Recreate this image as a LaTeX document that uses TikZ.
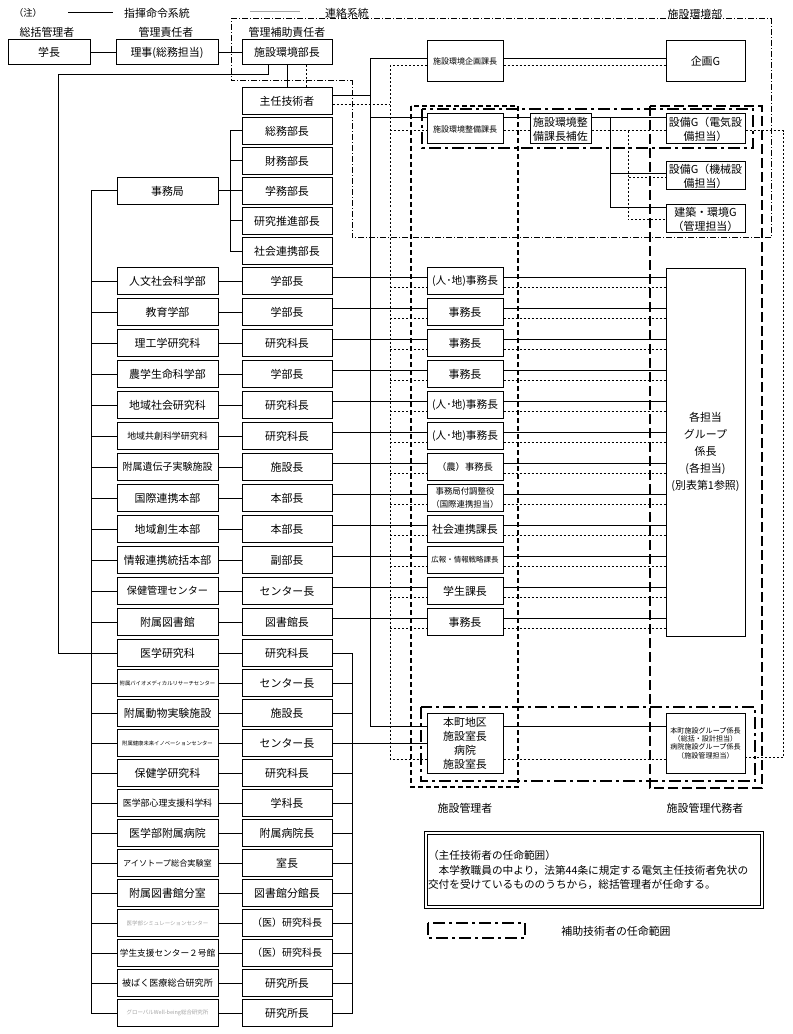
\documentclass[tikz,border=0pt]{standalone}
\usepackage{fontspec}
\setmainfont{Noto Sans CJK JP}
\definecolor{faint}{RGB}{165,165,165}
\tikzset{every picture/.style={line width=0.75pt}}
\tikzset{
  box/.style={draw, fill=white, inner sep=0pt, align=center, minimum height=20pt},
  colL/.style={box, minimum width=75.75pt},
  colM/.style={box, minimum width=67.5pt},
  colC/.style={box, minimum width=57pt},
  colR/.style={box, minimum width=59.25pt},
  fs/.style={font=\fontsize{#1}{#1}\selectfont},
  contact/.style={dash pattern=on 1.5pt off 1.5pt},
  kanri/.style={line width=1.5pt, dash pattern=on 3.75pt off 2.25pt},
  daimu/.style={line width=1.5pt, dash pattern=on 7.5pt off 3pt},
  hojo/.style={line width=1.5pt, dash pattern=on 9pt off 3pt on 2.25pt off 3pt},
  bumon/.style={dash pattern=on 4.5pt off 1.5pt on 0.75pt off 1.5pt},
}

\begin{document}
\begin{tikzpicture}[x=0.75pt,y=0.75pt,yscale=-1,xscale=1,font=\fontsize{8.2}{10.5}\selectfont]
\useasboundingbox (0,0) rectangle (792,1034);

	%Shape: Polygon [施設環境部]
	\draw [bumon] (231,19) -- (771,19) -- (771,238) -- (352,238) -- (352,81) -- (231,81) -- cycle ;
	%Shape: Rectangle [施設管理者]
	\draw [kanri] (411,106) rectangle (518,787) ;
	%Shape: Rectangle [施設管理代務者]
	\draw [daimu] (650,106) rectangle (762,788) ;
	%Shape: Rectangle [補助技術者]
	\draw [hojo] (422,109) rectangle (753,148) ;
	\draw [hojo] (421,707) rectangle (755,781) ;

	% Text Node
	\node [fs=7] (chu) at (28,13) {（注）};
	\node (shiki) at (157,13) {指揮命令系統};
	\node (renraku) at (347,13) {連絡系統};
	\node (bumei) at (695,14) {施設環境部};
	\node (sokatsu) at (47,32) {総括管理者};
	\node (sekinin) at (166,32) {管理責任者};
	\node (hojosekinin) at (287,32) {管理補助責任者};
	\coordinate (lgA1) at (68,13);
	\coordinate (lgA2) at (113,13);
	\coordinate (lgB1) at (250,12);
	\coordinate (lgB2) at (300,12);
	\draw (lgA1) -- (lgA2) ;
	\draw [faint] (lgB1) -- (lgB2) ;

	% Top row
	\node [box, minimum width=61.5pt, minimum height=18.75pt] (gakucho) at (49,52.5) {学長};
	\node [box, minimum width=76.5pt, minimum height=18.75pt] (riji) at (167,52.5) {理事(総務担当)};
	\node [box, minimum width=67.5pt, minimum height=18.75pt] (boss) at (287,52.5) {施設環境部長};
	\node [colM] (chief) at (287,101) {主任技術者};

	% 事務局
	\node [colL] (jimu) at (167.5,191) {事務局};
	\node [colM] (bu1) at (287,131) {総務部長};
	\node [colM] (bu2) at (287,161) {財務部長};
	\node [colM] (bu3) at (287,191) {学務部長};
	\node [colM] (bu4) at (287,221) {研究推進部長};
	\node [colM] (bu5) at (287,251) {社会連携部長};

	% Rows
	\node [colL] (l0) at (167.5,281) {人文社会科学部};
	\node [colM] (m0) at (287,281) {学部長};
	\node [colC, fs=8] (c0) at (465,281) {(人･地)事務長};
	\node [colL] (l1) at (167.5,312) {教育学部};
	\node [colM] (m1) at (287,312) {学部長};
	\node [colC] (c1) at (465,312) {事務長};
	\node [colL] (l2) at (167.5,343) {理工学研究科};
	\node [colM] (m2) at (287,343) {研究科長};
	\node [colC] (c2) at (465,343) {事務長};
	\node [colL] (l3) at (167.5,374) {農学生命科学部};
	\node [colM] (m3) at (287,374) {学部長};
	\node [colC] (c3) at (465,374) {事務長};
	\node [colL] (l4) at (167.5,405) {地域社会研究科};
	\node [colM] (m4) at (287,405) {研究科長};
	\node [colC, fs=8] (c4) at (465,405) {(人･地)事務長};
	\node [colL, fs=6.7] (l5) at (167.5,436) {地域共創科学研究科};
	\node [colM] (m5) at (287,436) {研究科長};
	\node [colC, fs=8] (c5) at (465,436) {(人･地)事務長};
	\node [colL, fs=7.5] (l6) at (167.5,467) {附属遺伝子実験施設};
	\node [colM] (m6) at (287,467) {施設長};
	\node [colC, fs=7] (c6) at (465,467) {（農）事務長};
	\node [colL] (l7) at (167.5,498) {国際連携本部};
	\node [colM] (m7) at (287,498) {本部長};
	\node [colC, font=\fontsize{6.3}{9.5}\selectfont] (c7) at (465,498) {事務局付調整役\\（国際連携担当）};
	\node [colL] (l8) at (167.5,529) {地域創生本部};
	\node [colM] (m8) at (287,529) {本部長};
	\node [colC] (c8) at (465,529) {社会連携課長};
	\node [colL] (l9) at (167.5,560) {情報連携統括本部};
	\node [colM] (m9) at (287,560) {副部長};
	\node [colC, fs=5.6] (c9) at (465,560) {広報・情報戦略課長};
	\node [colL, fs=7.6] (l10) at (167.5,591) {保健管理センター};
	\node [colM] (m10) at (287,591) {センター長};
	\node [colC] (c10) at (465,591) {学生課長};
	\node [colL] (l11) at (167.5,622) {附属図書館};
	\node [colM] (m11) at (287,622) {図書館長};
	\node [colC] (c11) at (465,622) {事務長};
	\node [colL] (l12) at (167.5,653) {医学研究科};
	\node [colM] (m12) at (287,653) {研究科長};
	\node [colL, fs=4] (l13) at (167.5,683) {附属バイオメディカルリサーチセンター};
	\node [colM] (m13) at (287,683) {センター長};
	\node [colL] (l14) at (167.5,713) {附属動物実験施設};
	\node [colM] (m14) at (287,713) {施設長};
	\node [colL, fs=4] (l15) at (167.5,743) {附属健康未来イノベーションセンター};
	\node [colM] (m15) at (287,743) {センター長};
	\node [colL] (l16) at (167.5,773) {保健学研究科};
	\node [colM] (m16) at (287,773) {研究科長};
	\node [colL, fs=6.7] (l17) at (167.5,803) {医学部心理支援科学科};
	\node [colM] (m17) at (287,803) {学科長};
	\node [colL] (l18) at (167.5,833) {医学部附属病院};
	\node [colM] (m18) at (287,833) {附属病院長};
	\node [colL, fs=6.1] (l19) at (167.5,863) {アイソトープ総合実験室};
	\node [colM] (m19) at (287,863) {室長};
	\node [colL] (l20) at (167.5,893) {附属図書館分室};
	\node [colM] (m20) at (287,893) {図書館分館長};
	\node [colL, fs=4.1, text=faint] (l21) at (167.5,923) {医学部シミュレーションセンター};
	\node [colM, fs=7.5] (m21) at (287,923) {（医）研究科長};
	\node [colL, fs=6.5] (l22) at (167.5,953) {学生支援センター２号館};
	\node [colM, fs=7.5] (m22) at (287,953) {（医）研究科長};
	\node [colL, fs=6.8] (l23) at (167.5,983) {被ばく医療総合研究所};
	\node [colM] (m23) at (287,983) {研究所長};
	\node [colL, fs=4.1, text=faint] (l24) at (167.5,1013) {グローバルWell-being総合研究所};
	\node [colM] (m24) at (287,1013) {研究所長};

	% 施設環境部
	\node [colC, minimum height=30.75pt, fs=6] (kikaku) at (465,61) {施設環境企画課長};
	\node [colR, minimum height=30.75pt] (kikakuG) at (705.5,61) {企画G};
	\node [colC, minimum height=22.5pt, fs=6] (seibi) at (465,129) {施設環境整備課長};
	\node [box, minimum width=45.75pt, minimum height=22.5pt] (hosa) at (560.5,129) {施設環境整\\備課長補佐};
	\node [colR, minimum height=22.5pt] (denki) at (705.5,129) {設備G（電気設\\備担当）};
	\node [colR, minimum height=21pt] (kikai) at (705.5,176) {設備G（機械設\\備担当）};
	\node [colR, minimum height=21pt] (kenchiku) at (705.5,219) {建築・環境G\\（管理担当）};
	\node [colR, minimum height=276pt, font=\fontsize{8.2}{12.9}\selectfont] (tanto) at (705.5,452) {各担当\\グループ\\係長\\(各担当)\\(別表第1参照)};
	\node [colC, minimum height=45pt] (honcho) at (465,743) {本町地区\\施設室長\\病院\\施設室長};
	\node [colR, minimum height=45pt, font=\fontsize{5.3}{6.2}\selectfont] (honchoG) at (705.5,743) {本町施設グループ係長\\（総括・設計担当）\\病院施設グループ係長\\（施設管理担当）};
	\node (kanrisha) at (465,808) {施設管理者};
	\node (daimusha) at (705,808) {施設管理代務者};

	% Note
	\node [draw, double, double distance=1.5pt, minimum width=252pt, minimum height=55.5pt, text width=249pt, inner sep=1.5pt, align=left, font=\fontsize{8}{10.9}\selectfont] (note) at (594,870) {（主任技術者の任命範囲）\\　本学教職員の中より，法第44条に規定する電気主任技術者免状の\\交付を受けているもののうちから，総括管理者が任命する。};
	\draw [hojo] (428,923) rectangle (525,938) ;
	\node (hojolbl) at (616,931) {補助技術者の任命範囲};

	% Trunks
	\coordinate (leftT) at (58,75);
	\coordinate (sp) at (91,191);
	\coordinate (jT) at (230,131);
	\coordinate (mT) at (352,653);
	\coordinate (sT) at (370,59);
	\coordinate (dT) at (390,66);
	\coordinate (bT) at (610,118);
	\coordinate (bdT) at (628,131);
	\coordinate (rT) at (783,131);

	%Straight Lines
	\draw (gakucho.east) -- (riji.west) ;
	\draw (riji.east) -- (boss.west) ;
	\draw (boss.south) -- (chief.north) ;
	\draw [contact] ([xshift=14.25pt]boss.south) -- ([xshift=14.25pt]chief.north) ;
	\draw ([xshift=-14.25pt]boss.south) |- (leftT) |- (l12.west) ;
	\draw ([yshift=-1.5pt]kikaku.west) -| (sT) |- ([yshift=-12.75pt]honcho.west) ;
	\draw [contact] ([yshift=3.75pt]kikaku.west) -| (dT) |- ([yshift=12pt]honcho.west) ;
	\draw ([yshift=-1.5pt]kikaku.east) -- ([yshift=-1.5pt]kikakuG.west) ;
	\draw [contact] ([yshift=3.75pt]kikaku.east) -- ([yshift=3.75pt]kikakuG.west) ;
	\draw ([yshift=-3.75pt]chief.east) -- ([yshift=-3.75pt]chief.east -| sT) ;
	\draw [contact] ([yshift=3pt]chief.east) -- ([yshift=3pt]chief.east -| dT) ;
	\draw ([yshift=-8.25pt]seibi.west -| sT) -- ([yshift=-8.25pt]seibi.west) ;
	\draw [contact] ([yshift=1.5pt]seibi.west -| dT) -- ([yshift=1.5pt]seibi.west) ;
	\draw ([yshift=-8.25pt]seibi.east) -- ([yshift=-8.25pt]hosa.west) ;
	\draw [contact] ([yshift=1.5pt]seibi.east) -- ([yshift=1.5pt]hosa.west) ;
	\draw ([yshift=-8.25pt]hosa.east) -- ([yshift=-8.25pt]denki.west) ;
	\draw [contact] ([yshift=1.5pt]hosa.east) -- ([yshift=1.5pt]denki.west) ;
	\draw (bT) |- ([yshift=-1.5pt]kikai.west) ;
	\draw (bT) |- ([yshift=-8.25pt]kenchiku.west) ;
	\draw [contact] (bdT) |- ([yshift=1.5pt]kikai.west) ;
	\draw [contact] (bdT) |- ([yshift=0.75pt]kenchiku.west) ;
	\draw [contact] ([yshift=1.5pt]denki.east) -| (rT) |- ([yshift=10.5pt]honchoG.east) ;
	\draw ([yshift=-12.75pt]honcho.east) -- ([yshift=-12.75pt]honchoG.west) ;
	\draw [contact] ([yshift=12pt]honcho.east) -- ([yshift=12pt]honchoG.west) ;

	% 事務局
	\draw (bu1.west) -- (jT) |- (bu5.west) ;
	\draw (jT |- bu2.west) -- (bu2.west) ;
	\draw (jT |- bu4.west) -- (bu4.west) ;
	\draw (jimu.east) -- (bu3.west) ;

	% Left spine
	\draw (jimu.west) -- (sp) |- (l24.west) ;
	\draw (sp |- l0.west) -- (l0.west) ;
	\draw (sp |- l1.west) -- (l1.west) ;
	\draw (sp |- l2.west) -- (l2.west) ;
	\draw (sp |- l3.west) -- (l3.west) ;
	\draw (sp |- l4.west) -- (l4.west) ;
	\draw (sp |- l5.west) -- (l5.west) ;
	\draw (sp |- l6.west) -- (l6.west) ;
	\draw (sp |- l7.west) -- (l7.west) ;
	\draw (sp |- l8.west) -- (l8.west) ;
	\draw (sp |- l9.west) -- (l9.west) ;
	\draw (sp |- l10.west) -- (l10.west) ;
	\draw (sp |- l11.west) -- (l11.west) ;
	\draw (sp |- l13.west) -- (l13.west) ;
	\draw (sp |- l14.west) -- (l14.west) ;
	\draw (sp |- l15.west) -- (l15.west) ;
	\draw (sp |- l16.west) -- (l16.west) ;
	\draw (sp |- l17.west) -- (l17.west) ;
	\draw (sp |- l18.west) -- (l18.west) ;
	\draw (sp |- l19.west) -- (l19.west) ;
	\draw (sp |- l20.west) -- (l20.west) ;
	\draw (sp |- l21.west) -- (l21.west) ;
	\draw (sp |- l22.west) -- (l22.west) ;
	\draw (sp |- l23.west) -- (l23.west) ;

	% Rows 0-11
	\draw (l0.east) -- (m0.west) ;
	\draw ([yshift=-3pt]m0.east) -- ([yshift=-3pt]c0.west) ;
	\draw ([yshift=-3pt]c0.east) -- ([yshift=-3pt]c0.east -| tanto.west) ;
	\draw [contact] ([yshift=4.5pt]c0.west -| dT) -- ([yshift=4.5pt]c0.west) ;
	\draw [contact] ([yshift=4.5pt]c0.east) -- ([yshift=4.5pt]c0.east -| tanto.west) ;
	\draw (l1.east) -- (m1.west) ;
	\draw ([yshift=-3pt]m1.east) -- ([yshift=-3pt]c1.west) ;
	\draw ([yshift=-3pt]c1.east) -- ([yshift=-3pt]c1.east -| tanto.west) ;
	\draw [contact] ([yshift=4.5pt]c1.west -| dT) -- ([yshift=4.5pt]c1.west) ;
	\draw [contact] ([yshift=4.5pt]c1.east) -- ([yshift=4.5pt]c1.east -| tanto.west) ;
	\draw (l2.east) -- (m2.west) ;
	\draw ([yshift=-3pt]m2.east) -- ([yshift=-3pt]c2.west) ;
	\draw ([yshift=-3pt]c2.east) -- ([yshift=-3pt]c2.east -| tanto.west) ;
	\draw [contact] ([yshift=4.5pt]c2.west -| dT) -- ([yshift=4.5pt]c2.west) ;
	\draw [contact] ([yshift=4.5pt]c2.east) -- ([yshift=4.5pt]c2.east -| tanto.west) ;
	\draw (l3.east) -- (m3.west) ;
	\draw ([yshift=-3pt]m3.east) -- ([yshift=-3pt]c3.west) ;
	\draw ([yshift=-3pt]c3.east) -- ([yshift=-3pt]c3.east -| tanto.west) ;
	\draw [contact] ([yshift=4.5pt]c3.west -| dT) -- ([yshift=4.5pt]c3.west) ;
	\draw [contact] ([yshift=4.5pt]c3.east) -- ([yshift=4.5pt]c3.east -| tanto.west) ;
	\draw (l4.east) -- (m4.west) ;
	\draw ([yshift=-3pt]m4.east) -- ([yshift=-3pt]c4.west) ;
	\draw ([yshift=-3pt]c4.east) -- ([yshift=-3pt]c4.east -| tanto.west) ;
	\draw [contact] ([yshift=4.5pt]c4.west -| dT) -- ([yshift=4.5pt]c4.west) ;
	\draw [contact] ([yshift=4.5pt]c4.east) -- ([yshift=4.5pt]c4.east -| tanto.west) ;
	\draw (l5.east) -- (m5.west) ;
	\draw ([yshift=-3pt]m5.east) -- ([yshift=-3pt]c5.west) ;
	\draw ([yshift=-3pt]c5.east) -- ([yshift=-3pt]c5.east -| tanto.west) ;
	\draw [contact] ([yshift=4.5pt]c5.west -| dT) -- ([yshift=4.5pt]c5.west) ;
	\draw [contact] ([yshift=4.5pt]c5.east) -- ([yshift=4.5pt]c5.east -| tanto.west) ;
	\draw (l6.east) -- (m6.west) ;
	\draw ([yshift=-3pt]m6.east) -- ([yshift=-3pt]c6.west) ;
	\draw ([yshift=-3pt]c6.east) -- ([yshift=-3pt]c6.east -| tanto.west) ;
	\draw [contact] ([yshift=4.5pt]c6.west -| dT) -- ([yshift=4.5pt]c6.west) ;
	\draw [contact] ([yshift=4.5pt]c6.east) -- ([yshift=4.5pt]c6.east -| tanto.west) ;
	\draw (l7.east) -- (m7.west) ;
	\draw ([yshift=-3pt]m7.east) -- ([yshift=-3pt]c7.west) ;
	\draw ([yshift=-3pt]c7.east) -- ([yshift=-3pt]c7.east -| tanto.west) ;
	\draw [contact] ([yshift=4.5pt]c7.west -| dT) -- ([yshift=4.5pt]c7.west) ;
	\draw [contact] ([yshift=4.5pt]c7.east) -- ([yshift=4.5pt]c7.east -| tanto.west) ;
	\draw (l8.east) -- (m8.west) ;
	\draw ([yshift=-3pt]m8.east) -- ([yshift=-3pt]c8.west) ;
	\draw ([yshift=-3pt]c8.east) -- ([yshift=-3pt]c8.east -| tanto.west) ;
	\draw [contact] ([yshift=4.5pt]c8.west -| dT) -- ([yshift=4.5pt]c8.west) ;
	\draw [contact] ([yshift=4.5pt]c8.east) -- ([yshift=4.5pt]c8.east -| tanto.west) ;
	\draw (l9.east) -- (m9.west) ;
	\draw ([yshift=-3pt]m9.east) -- ([yshift=-3pt]c9.west) ;
	\draw ([yshift=-3pt]c9.east) -- ([yshift=-3pt]c9.east -| tanto.west) ;
	\draw [contact] ([yshift=4.5pt]c9.west -| dT) -- ([yshift=4.5pt]c9.west) ;
	\draw [contact] ([yshift=4.5pt]c9.east) -- ([yshift=4.5pt]c9.east -| tanto.west) ;
	\draw (l10.east) -- (m10.west) ;
	\draw ([yshift=-3pt]m10.east) -- ([yshift=-3pt]c10.west) ;
	\draw ([yshift=-3pt]c10.east) -- ([yshift=-3pt]c10.east -| tanto.west) ;
	\draw [contact] ([yshift=4.5pt]c10.west -| dT) -- ([yshift=4.5pt]c10.west) ;
	\draw [contact] ([yshift=4.5pt]c10.east) -- ([yshift=4.5pt]c10.east -| tanto.west) ;
	\draw (l11.east) -- (m11.west) ;
	\draw ([yshift=-3pt]m11.east) -- ([yshift=-3pt]c11.west) ;
	\draw ([yshift=-3pt]c11.east) -- ([yshift=-3pt]c11.east -| tanto.west) ;
	\draw [contact] ([yshift=4.5pt]c11.west -| dT) -- ([yshift=4.5pt]c11.west) ;
	\draw [contact] ([yshift=4.5pt]c11.east) -- ([yshift=4.5pt]c11.east -| tanto.west) ;

	% Rows 12-24
	\draw (m12.east) -| (mT |- m24.east) -- (m24.east) ;
	\draw (m15.east) -- (honcho.west) ;
	\draw (l12.east) -- (m12.west) ;
	\draw (l13.east) -- (m13.west) ;
	\draw (m13.east) -- (m13.east -| mT) ;
	\draw (l14.east) -- (m14.west) ;
	\draw (m14.east) -- (m14.east -| mT) ;
	\draw (l15.east) -- (m15.west) ;
	\draw (l16.east) -- (m16.west) ;
	\draw (m16.east) -- (m16.east -| mT) ;
	\draw (l17.east) -- (m17.west) ;
	\draw (m17.east) -- (m17.east -| mT) ;
	\draw (l18.east) -- (m18.west) ;
	\draw (m18.east) -- (m18.east -| mT) ;
	\draw (l19.east) -- (m19.west) ;
	\draw (m19.east) -- (m19.east -| mT) ;
	\draw (l20.east) -- (m20.west) ;
	\draw (m20.east) -- (m20.east -| mT) ;
	\draw (l21.east) -- (m21.west) ;
	\draw (m21.east) -- (m21.east -| mT) ;
	\draw (l22.east) -- (m22.west) ;
	\draw (m22.east) -- (m22.east -| mT) ;
	\draw (l23.east) -- (m23.west) ;
	\draw (m23.east) -- (m23.east -| mT) ;
	\draw (l24.east) -- (m24.west) ;

\end{tikzpicture}
\end{document}
